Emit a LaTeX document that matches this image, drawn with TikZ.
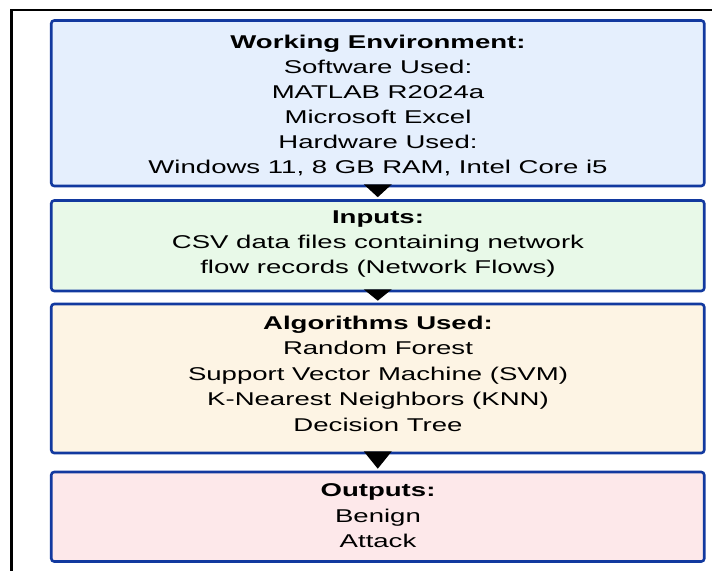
\documentclass[tikz,border=0pt]{standalone}
\usepackage{fontspec}
\setmainfont{Liberation Sans}[FakeStretch=1.49]
\usetikzlibrary{calc}
\definecolor{bordercol}{HTML}{12399F}
\definecolor{fillA}{HTML}{E5EFFD}
\definecolor{fillB}{HTML}{E8F9E8}
\definecolor{fillC}{HTML}{FDF4E4}
\definecolor{fillD}{HTML}{FDE8EA}
\begin{document}
\begin{tikzpicture}[x=1pt,y=-1pt,
  box/.style={draw=bordercol, line width=2.6pt, rounded corners=3pt, minimum width=653pt, inner sep=0pt},
  txt/.style={anchor=base, inner sep=0pt, font=\fontsize{18.5}{25}\selectfont},
  hdr/.style={anchor=base, inner sep=0pt, font=\fontsize{18.5}{25}\selectfont\bfseries},
  tri/.style={fill=black}]
\useasboundingbox (0,0) rectangle (712,571);
\draw[line width=2.5pt] (712,10) -- (11.5,10) -- (11.5,571);

% boxes
\node[box, fill=fillA, minimum height=165.5pt] (b1) at (377.75,103.25) {};
\node[box, fill=fillB, minimum height=90.5pt]  (b2) at (377.75,245.75) {};
\node[box, fill=fillC, minimum height=149pt]   (b3) at (377.75,378.5) {};
\node[box, fill=fillD, minimum height=89.5pt]  (b4) at (377.75,516.75) {};

% box 1 text
\node[hdr] (b1h) at (378,48) {Working Environment:};
\node[txt] (b1l1) at (378,73) {Software Used:};
\node[txt] (b1l2) at (378,98) {MATLAB R2024a};
\node[txt] (b1l3) at (378,123) {Microsoft Excel};
\node[txt] (b1l4) at (378,148) {Hardware Used:};
\node[txt] (b1l5) at (378,173) {Windows 11, 8 GB RAM, Intel Core i5};

% box 2 text
\node[hdr] (b2h) at (378,223) {Inputs:};
\node[txt] (b2l1) at (378,248) {CSV data files containing network};
\node[txt] (b2l2) at (378,273) {flow records (Network Flows)};

% box 3 text
\node[hdr] (b3h) at (378,329) {Algorithms Used:};
\node[txt] (b3l1) at (378,354.5) {Random Forest};
\node[txt] (b3l2) at (378,380) {Support Vector Machine (SVM)};
\node[txt] (b3l3) at (378,405.5) {K-Nearest Neighbors (KNN)};
\node[txt] (b3l4) at (378,431) {Decision Tree};

% box 4 text
\node[hdr] (b4h) at (378,496) {Outputs:};
\node[txt] (b4l1) at (378,522) {Benign};
\node[txt] (b4l2) at (378,547) {Attack};

% connectors (triangles)
\fill[tri] ($(b1.south)+(-14,-3)$) -- ($(b1.south)+(14,-3)$) -- ($(b2.north)+(0,-2)$) -- cycle;
\fill[tri] ($(b2.south)+(-14,-3)$) -- ($(b2.south)+(14,-3)$) -- ($(b3.north)+(0,-2)$) -- cycle;
\fill[tri] ($(b3.south)+(-14,-3)$) -- ($(b3.south)+(14,-3)$) -- ($(b4.north)+(0,-2)$) -- cycle;
\end{tikzpicture}
\end{document}
